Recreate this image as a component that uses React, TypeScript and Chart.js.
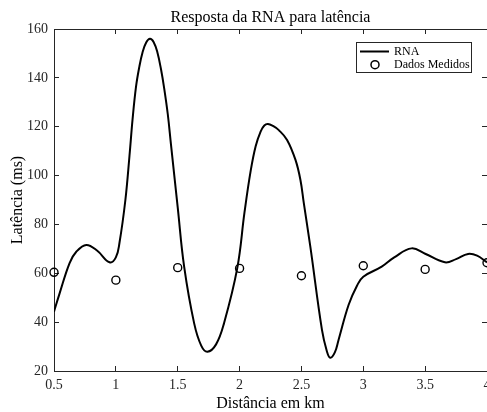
import React, { useEffect, useRef } from 'react';
import { Chart, registerables } from 'chart.js';

Chart.register(...registerables);

const FONT = '"Liberation Serif", "Times New Roman", Times, serif';
const AXIS_COLOR = '#262626';

// RNA response curve
const curveX = [
  0.5, 0.546, 0.626, 0.68, 0.761, 0.85, 0.949, 1.0, 1.029, 1.077, 1.11, 1.135,
  1.163, 1.19, 1.215, 1.245, 1.276, 1.305, 1.335, 1.365, 1.391, 1.42, 1.445,
  1.5, 1.552, 1.633, 1.69, 1.74, 1.81, 1.874, 1.981, 2.04, 2.09, 2.13, 2.17,
  2.2, 2.229, 2.27, 2.317, 2.384, 2.452, 2.492, 2.519, 2.572, 2.666, 2.705,
  2.733, 2.77, 2.8, 2.881, 2.95, 3.0, 3.149, 3.25, 3.39, 3.5, 3.66, 3.75,
  3.847, 3.92, 4.0,
];
const curveY = [
  44.3, 51.9, 64.2, 68.8, 71.6, 69.2, 64.5, 66.5, 72.4, 90, 108, 123,
  136.4, 144.6, 150.3, 154.5, 156.0, 154.7, 150.6, 143.5, 135.6, 125, 113,
  87, 62.7, 39.5, 30.4, 27.9, 30.9, 39.5, 62, 85, 102, 112, 118,
  120.5, 121.1, 120.3, 118.6, 114.6, 106.4, 98.2, 88.8, 70.9, 36.8, 28.2,
  25.4, 27.6, 32.7, 47, 55, 58.6, 62.7, 66.5, 70.2, 68.0, 64.5, 65.8,
  67.9, 67.2, 64.5,
];

// Measured data
const measuredX = [0.5, 1, 1.5, 2, 2.5, 3, 3.5, 4];
const measuredY = [60.4, 57.2, 62.3, 62, 59, 63.1, 61.6, 64.3];

// Axis ticks
const xTickValues = [0.5, 1, 1.5, 2, 2.5, 3, 3.5, 4];
const xTickLabels = ['0.5', '1', '1.5', '2', '2.5', '3', '3.5', '4'];
const yTickValues = [20, 40, 60, 80, 100, 120, 140, 160];

const TITLE = 'Resposta da RNA para latência';
const X_TITLE = 'Distância em km';
const Y_TITLE = 'Latência (ms)';
const SERIES_NAMES = ['RNA', 'Dados Medidos'];

const legendPlugin = {
  id: 'insideLegend',
  afterDatasetsDraw(chart: any) {
    const { ctx, chartArea } = chart;
    const ds = chart.data.datasets;
    ctx.save();
    ctx.font = `12px ${FONT}`;
    const textW = Math.max(...ds.map((d: any) => ctx.measureText(d.label).width));
    const boxH = 30;
    const right = Math.round(chartArea.right - 16);
    const left = Math.round(right - (38 + textW + 1));
    const top = Math.round(chartArea.top + 13);
    ctx.fillStyle = '#ffffff';
    ctx.fillRect(left, top, right - left, boxH);
    ctx.strokeStyle = AXIS_COLOR;
    ctx.lineWidth = 1;
    ctx.strokeRect(left + 0.5, top + 0.5, right - left, boxH);
    const rows = [top + 9.5, top + 22.7];
    ctx.strokeStyle = '#000';
    ctx.lineWidth = 2;
    ctx.beginPath();
    ctx.moveTo(left + 4, rows[0]);
    ctx.lineTo(left + 33, rows[0]);
    ctx.stroke();
    ctx.lineWidth = 1.5;
    ctx.beginPath();
    ctx.arc(left + 19, rows[1], 4, 0, Math.PI * 2);
    ctx.stroke();
    ctx.fillStyle = '#000';
    ctx.textBaseline = 'middle';
    ctx.textAlign = 'left';
    ds.forEach((d: any, i: number) => {
      ctx.fillText(d.label, left + 38, rows[i]);
    });
    ctx.restore();
  },
};

export default function App() {
  const canvasRef = useRef<HTMLCanvasElement | null>(null);

  useEffect(() => {
    if (!canvasRef.current) return;
    Chart.defaults.font.family = FONT;
    const setXTicks = (scale: any) => {
      scale.ticks = xTickValues.map((v) => ({ value: v }));
    };
    const setYTicks = (scale: any) => {
      scale.ticks = yTickValues.map((v) => ({ value: v }));
    };
    const chart = new Chart(canvasRef.current, {
      type: 'line',
      data: {
        datasets: [
          {
            label: SERIES_NAMES[0],
            data: curveX.map((x, i) => ({ x, y: curveY[i] })),
            borderColor: '#000',
            borderWidth: 2,
            pointRadius: 0,
            tension: 0.4,
            fill: false,
          },
          {
            label: SERIES_NAMES[1],
            data: measuredX.map((x, i) => ({ x, y: measuredY[i] })),
            showLine: false,
            borderColor: '#000',
            backgroundColor: 'rgba(0,0,0,0)',
            pointRadius: 4,
            pointBorderWidth: 1.4,
            pointBorderColor: '#000',
            pointBackgroundColor: 'rgba(0,0,0,0)',
            clip: false as any,
          },
        ],
      } as any,
      options: {
        animation: false,
        responsive: false,
        layout: { padding: 0, autoPadding: false },
        plugins: {
          legend: { display: false },
          tooltip: { enabled: false },
          title: {
            display: true,
            text: TITLE,
            fullSize: false,
            color: '#000',
            font: { size: 16, family: FONT, weight: 'normal', lineHeight: 1 },
            padding: { top: 10, bottom: 3 },
          },
        },
        scales: {
          x: {
            type: 'linear',
            position: 'bottom',
            min: 0.5,
            max: 4,
            afterBuildTicks: setXTicks,
            afterFit: (s: any) => {
              s.height = 41;
              s.paddingLeft = 0;
              s.paddingRight = 0;
            },
            grid: { drawOnChartArea: false, tickLength: -5, color: AXIS_COLOR, tickWidth: 1 },
            border: { display: true, color: AXIS_COLOR, width: 1 },
            ticks: {
              color: AXIS_COLOR,
              font: { size: 14, family: FONT },
              padding: 11,
              maxRotation: 0,
              autoSkip: false,
              callback: (v: any) => {
                const i = xTickValues.indexOf(Number(v));
                return i >= 0 ? xTickLabels[i] : '';
              },
            },
            title: {
              display: true,
              text: X_TITLE,
              color: '#000',
              font: { size: 16, family: FONT, lineHeight: 1 },
              padding: 0,
            },
          },
          x2: {
            type: 'linear',
            position: 'top',
            min: 0.5,
            max: 4,
            afterBuildTicks: setXTicks,
            afterFit: (s: any) => {
              s.height = 0;
              s.paddingLeft = 0;
              s.paddingRight = 0;
            },
            grid: { drawOnChartArea: false, tickLength: -5, color: AXIS_COLOR },
            border: { display: true, color: AXIS_COLOR, width: 1 },
            ticks: { display: false },
          },
          y: {
            type: 'linear',
            position: 'left',
            min: 20,
            max: 160,
            afterBuildTicks: setYTicks,
            afterFit: (s: any) => {
              s.width = 54;
              s.paddingTop = 0;
              s.paddingBottom = 0;
            },
            grid: { drawOnChartArea: false, tickLength: -5, color: AXIS_COLOR },
            border: { display: true, color: AXIS_COLOR, width: 1 },
            ticks: {
              color: AXIS_COLOR,
              font: { size: 14, family: FONT },
              padding: 11,
              autoSkip: false,
            },
            title: {
              display: true,
              text: Y_TITLE,
              color: '#000',
              font: { size: 16, family: FONT, lineHeight: 1 },
              padding: { top: 9.5, bottom: 0 },
            },
          },
          y2: {
            type: 'linear',
            position: 'right',
            min: 20,
            max: 160,
            afterBuildTicks: setYTicks,
            afterFit: (s: any) => {
              s.width = 0;
              s.paddingTop = 0;
              s.paddingBottom = 0;
            },
            grid: { drawOnChartArea: false, tickLength: -5, color: AXIS_COLOR },
            border: { display: true, color: AXIS_COLOR, width: 1 },
            ticks: { display: false },
          },
        },
      } as any,
      plugins: [legendPlugin],
    });
    return () => {
      chart.destroy();
    };
  }, []);

  return (
    <div style={{ position: 'fixed', left: 0, top: 0, width: 487, height: 412, background: '#fff' }}>
      <canvas ref={canvasRef} width={487} height={412} style={{ display: 'block' }} />
    </div>
  );
}
